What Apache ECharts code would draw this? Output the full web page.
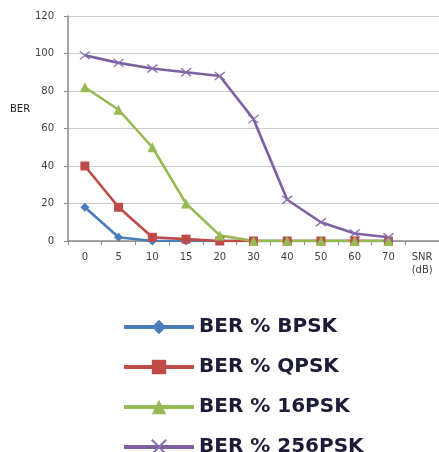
<!DOCTYPE html>
<html>
<head>
<meta charset="utf-8">
<script src="https://cdn.jsdelivr.net/npm/echarts@6/dist/echarts.min.js"></script>
<style>
  html, body { margin: 0; padding: 0; background: #ffffff; }
  #chart { width: 439px; height: 452px; }
</style>
</head>
<body>
<div id="chart"></div>
<script>
// SNR steps (dB) on the category axis; the last slot carries the axis title
const snrLabels = ['0', '5', '10', '15', '20', '30', '40', '50', '60', '70', 'SNR\n(dB)'];

// Bit error rate (%) per modulation scheme
const berBPSK   = [18, 2, 0, 0, 0, 0, 0, 0, 0, 0];
const berQPSK   = [40, 18, 2, 1, 0, 0, 0, 0, 0, 0];
const ber16PSK  = [82, 70, 50, 20, 3, 0, 0, 0, 0, 0];
const ber256PSK = [99, 95, 92, 90, 88, 65, 22, 10, 4, 2];

const yTicks = { min: 0, max: 120, interval: 20 };

const crossSymbol = 'path://M0,0L10,8M10,0L0,8';

function lineSeries(name, data, color, symbol, size, extra) {
  return Object.assign({
    name: name,
    type: 'line',
    data: data,
    symbol: symbol,
    symbolSize: size,
    showAllSymbol: true,
    lineStyle: { color: color, width: 2.6 },
    itemStyle: { color: color },
    emphasis: { disabled: true }
  }, extra || {});
}

const chart = echarts.init(document.getElementById('chart'), null, { renderer: 'canvas' });

chart.setOption({
  animation: false,
  backgroundColor: '#ffffff',
  title: {
    text: 'BER',
    left: 10,
    top: 104,
    padding: 0,
    textStyle: { color: '#202020', fontSize: 10, fontWeight: 'normal', fontFamily: 'DejaVu Sans' }
  },
  grid: { left: 68, top: 16, right: 0, bottom: 211, containLabel: false },
  xAxis: {
    type: 'category',
    data: snrLabels,
    boundaryGap: true,
    axisLine: { lineStyle: { color: '#8a8a8a', width: 1.5 } },
    axisTick: { show: true, inside: false, length: 4, lineStyle: { color: '#8a8a8a' } },
    axisLabel: { color: '#404040', fontSize: 10, fontFamily: 'DejaVu Sans', margin: 10, lineHeight: 13, interval: 0 },
    splitLine: { show: false }
  },
  yAxis: {
    type: 'value',
    min: yTicks.min,
    max: yTicks.max,
    interval: yTicks.interval,
    axisLine: { show: true, lineStyle: { color: '#8a8a8a', width: 1.5 } },
    axisTick: { show: true, inside: false, length: 4, lineStyle: { color: '#8a8a8a' } },
    axisLabel: { color: '#404040', fontSize: 10, fontFamily: 'DejaVu Sans', margin: 14 },
    splitLine: { lineStyle: { color: '#cccccc', width: 1.2 } }
  },
  legend: {
    orient: 'vertical',
    left: 122,
    top: 317,
    height: 200,
    padding: 0,
    itemWidth: 70,
    itemHeight: 18,
    itemGap: 20,
    selectedMode: false,
    lineStyle: { width: 4 },
    textStyle: { color: '#1c1c38', fontSize: 20, fontFamily: 'DejaVu Sans', fontWeight: 'bold' },
    data: ['BER % BPSK', 'BER % QPSK', 'BER % 16PSK', 'BER % 256PSK']
  },
  series: [
    lineSeries('BER % BPSK', berBPSK, '#4a7ebb', 'diamond', 9),
    lineSeries('BER % QPSK', berQPSK, '#be4b48', 'rect', 9),
    lineSeries('BER % 16PSK', ber16PSK, '#98b954', 'triangle', 10),
    lineSeries('BER % 256PSK', ber256PSK, '#7d60a0', crossSymbol, [10, 8], {
      itemStyle: { color: 'none', borderColor: '#8b70b0', borderWidth: 1.2 }
    })
  ]
});
</script>
</body>
</html>
